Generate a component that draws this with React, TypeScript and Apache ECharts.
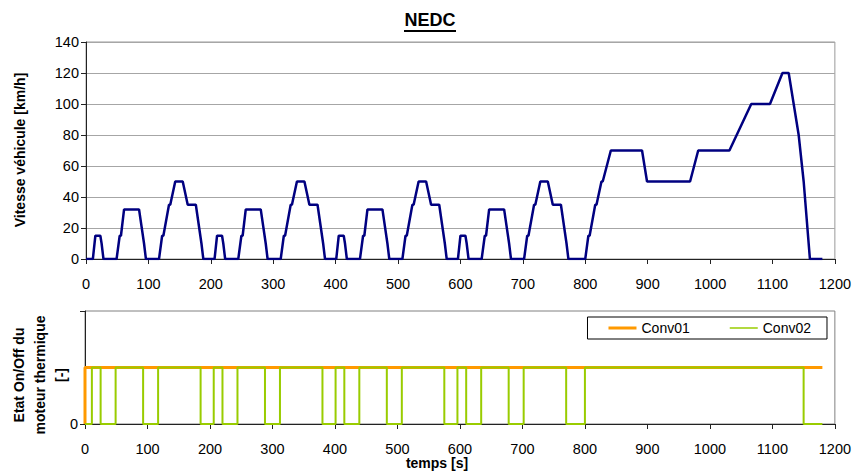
import React, { useEffect, useRef } from "react";
import * as echarts from "echarts";

// NEDC vehicle speed profile [s, km/h]
const speedTime = [
  0, 11, 15, 23, 25, 28, 49, 54, 56, 61, 85, 93, 96, 117, 122, 124, 133, 135, 143, 155, 163, 176, 185, 188, 195,
  206, 210, 218, 220, 223, 244, 249, 251, 256, 280, 288, 291, 312, 317, 319, 328, 330, 338, 350, 358, 371, 380, 383, 390,
  401, 405, 413, 415, 418, 439, 444, 446, 451, 475, 483, 486, 507, 512, 514, 523, 525, 533, 545, 553, 566, 575, 578, 585,
  596, 600, 608, 610, 613, 634, 639, 641, 646, 670, 678, 681, 702, 707, 709, 718, 720, 728, 740, 748, 761, 770, 773, 780,
  800, 805, 807, 816, 818, 826, 828, 841, 891, 899, 968, 981, 1031, 1066, 1096, 1116, 1126, 1142, 1150, 1160, 1180,
];
const speedValue = [
  0, 0, 15, 15, 10, 0, 0, 15, 15, 32, 32, 10, 0, 0, 15, 15, 35, 35, 50, 50, 35, 35, 10, 0, 0,
  0, 15, 15, 10, 0, 0, 15, 15, 32, 32, 10, 0, 0, 15, 15, 35, 35, 50, 50, 35, 35, 10, 0, 0,
  0, 15, 15, 10, 0, 0, 15, 15, 32, 32, 10, 0, 0, 15, 15, 35, 35, 50, 50, 35, 35, 10, 0, 0,
  0, 15, 15, 10, 0, 0, 15, 15, 32, 32, 10, 0, 0, 15, 15, 35, 35, 50, 50, 35, 35, 10, 0, 0,
  0, 15, 15, 35, 35, 50, 50, 70, 70, 50, 50, 70, 70, 100, 100, 120, 120, 80, 50, 0, 0,
];

// Engine on/off state
const conv01Time = [0, 0, 1180];
const conv01State = [0, 1, 1];
const conv02Time = [
  0, 11, 11, 25, 25, 49, 49, 93, 93, 117, 117, 185, 185, 206, 206, 220, 220, 244, 244, 288, 288, 312, 312,
  380, 380, 401, 401, 415, 415, 439, 439, 483, 483, 507, 507, 575, 575, 596, 596, 610, 610, 634, 634,
  678, 678, 702, 702, 770, 770, 800, 800, 1150, 1150, 1180,
];
const conv02State = [
  0, 0, 1, 1, 0, 0, 1, 1, 0, 0, 1, 1, 0, 0, 1, 1, 0, 0, 1, 1, 0, 0, 1,
  1, 0, 0, 1, 1, 0, 0, 1, 1, 0, 0, 1, 1, 0, 0, 1, 1, 0, 0, 1,
  1, 0, 0, 1, 1, 0, 0, 1, 1, 0, 0,
];

const xTicks = { min: 0, max: 1200, interval: 100 };
const FONT = "'Liberation Sans', Arial, sans-serif";

const zip = (a: number[], b: number[]) => a.map((v, i) => [v, b[i]]);

export default function App() {
  const ref = useRef<HTMLDivElement>(null);
  useEffect(() => {
    if (!ref.current) return;
    const chart = echarts.init(ref.current, undefined, { renderer: "svg" });
    const axisLineStyle = { color: "#222", width: 1 };
    const labelStyle = { color: "#000", fontSize: 14.5, fontFamily: FONT };
    const xAxisCommon = {
      type: "value" as const,
      ...xTicks,
      axisLine: { show: true, lineStyle: axisLineStyle, onZero: false },
      axisTick: { show: true, length: 5, lineStyle: axisLineStyle },
      axisLabel: { ...labelStyle, margin: 17, formatter: (v: number) => String(v) },
      splitLine: { show: false },
    };
    chart.setOption({
      animation: false,
      backgroundColor: "#fff",
      textStyle: { fontFamily: FONT },
      grid: [
        { left: 86, right: 19, top: 42, height: 217, show: true, borderColor: "#9a9a9a", borderWidth: 1 },
        { left: 85, right: 19, top: 311, height: 113, show: true, borderColor: "#808080", borderWidth: 1 },
      ],
      xAxis: [
        { ...xAxisCommon, gridIndex: 0 },
        { ...xAxisCommon, gridIndex: 1 },
      ],
      yAxis: [
        {
          type: "value",
          gridIndex: 0,
          min: 0,
          max: 140,
          interval: 20,
          axisLine: { show: true, lineStyle: axisLineStyle },
          axisTick: { show: true, length: 5, lineStyle: axisLineStyle },
          axisLabel: { ...labelStyle, margin: 7 },
          splitLine: { show: true, lineStyle: { color: "#a6a6a6", width: 1 } },
        },
        {
          type: "value",
          gridIndex: 1,
          min: 0,
          max: 2,
          interval: 2,
          axisLine: { show: true, lineStyle: axisLineStyle },
          axisTick: { show: true, length: 5, lineStyle: axisLineStyle },
          axisLabel: { ...labelStyle, margin: 7, formatter: (v: number) => (v === 0 ? "0" : "") },
          splitLine: { show: false },
        },
      ],
      legend: {
        data: [
          { name: "Conv01", icon: "path://M0 0H28V3H0Z" },
          { name: "Conv02", icon: "path://M0 0H28V1.5H0Z" },
        ],
        right: 27,
        top: 317,
        orient: "horizontal",
        backgroundColor: "#fff",
        borderColor: "#000",
        borderWidth: 1,
        borderRadius: 0,
        padding: [4, 16, 4, 21],
        itemGap: 40,
        itemWidth: 28,
        itemHeight: 12,
        textStyle: { color: "#000", fontSize: 14, fontFamily: FONT },
      },
      series: [
        {
          name: "Vitesse",
          type: "line",
          xAxisIndex: 0,
          yAxisIndex: 0,
          data: zip(speedTime, speedValue),
          symbol: "none",
          lineStyle: { color: "#000080", width: 2.5 },
          itemStyle: { color: "#000080" },
        },
        {
          name: "Conv01",
          type: "line",
          xAxisIndex: 1,
          yAxisIndex: 1,
          data: zip(conv01Time, conv01State),
          symbol: "none",
          lineStyle: { color: "#FF9900", width: 3 },
          itemStyle: { color: "#FF9900" },
        },
        {
          name: "Conv02",
          type: "line",
          xAxisIndex: 1,
          yAxisIndex: 1,
          data: zip(conv02Time, conv02State),
          symbol: "none",
          lineStyle: { color: "#99CC00", width: 2 },
          itemStyle: { color: "#99CC00" },
        },
      ],
      graphic: [
        {
          type: "text",
          x: 430,
          y: 20,
          style: {
            text: "NEDC",
            fontSize: 18,
            fontWeight: "bold",
            fontFamily: FONT,
            fill: "#000",
            align: "center",
            verticalAlign: "middle",
          },
        },
        {
          type: "line",
          shape: { x1: 404, y1: 31, x2: 456, y2: 31 },
          style: { stroke: "#000", lineWidth: 2 },
        },
        {
          type: "text",
          x: 20,
          y: 150,
          rotation: Math.PI / 2,
          style: {
            text: "Vitesse véhicule [km/h]",
            fontSize: 14,
            fontWeight: "bold",
            fontFamily: FONT,
            fill: "#000",
            align: "center",
            verticalAlign: "middle",
          },
        },
        {
          type: "text",
          x: 40,
          y: 375,
          rotation: Math.PI / 2,
          style: {
            text: "Etat On/Off du\nmoteur thermique\n[-]",
            fontSize: 14,
            fontWeight: "bold",
            fontFamily: FONT,
            fill: "#000",
            align: "center",
            verticalAlign: "middle",
            lineHeight: 21,
          },
        },
        {
          type: "text",
          x: 437,
          y: 463,
          style: {
            text: "temps [s]",
            fontSize: 14,
            fontWeight: "bold",
            fontFamily: FONT,
            fill: "#000",
            align: "center",
            verticalAlign: "middle",
          },
        },
      ],
    });
    return () => chart.dispose();
  }, []);
  return (
    <div
      ref={ref}
      style={{ position: "fixed", left: 0, top: 0, width: 854, height: 473, background: "#fff" }}
    />
  );
}
